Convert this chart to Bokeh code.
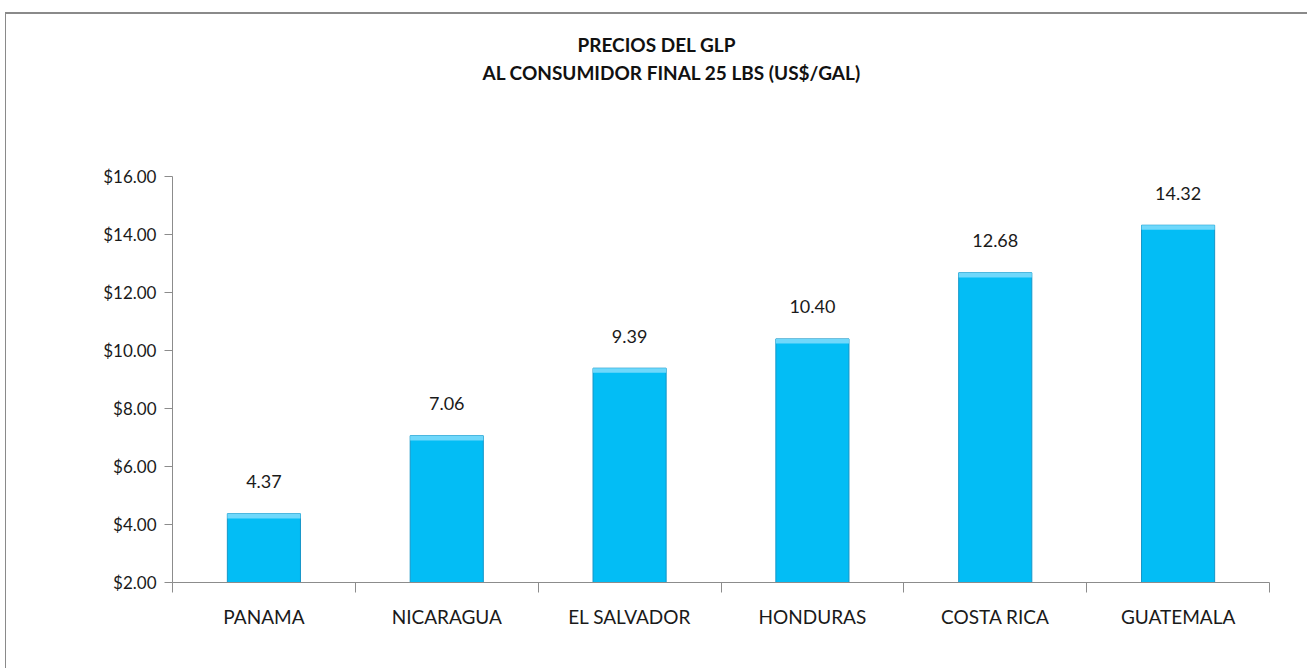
from bokeh.plotting import figure
from bokeh.models import Title, FixedTicker, NumeralTickFormatter, Range1d, LinearAxis
from bokeh.core.properties import value
from bokeh.embed import file_html
from bokeh.resources import INLINE

categories = ["PANAMA", "NICARAGUA", "EL SALVADOR", "HONDURAS", "COSTA RICA", "GUATEMALA"]
prices = [4.37, 7.06, 9.39, 10.40, 12.68, 14.32]
price_labels = ["4.37", "7.06", "9.39", "10.40", "12.68", "14.32"]
y_ticks = [2, 4, 6, 8, 10, 12, 14, 16]
title_lines = ["PRECIOS DEL GLP", "AL CONSUMIDOR FINAL  25 LBS (US$/GAL)"]

FONT = "Lato"

xs = [i + 0.5 for i in range(len(categories))]

p = figure(width=1302, height=656, output_backend="svg", toolbar_location=None,
           x_range=Range1d(0, len(categories)), y_range=Range1d(y_ticks[0], y_ticks[-1]),
           min_border_left=166, min_border_right=39, min_border_bottom=88,
           min_border_top=0, x_axis_type=None)
p.styles = {"margin-left": "5px", "margin-top": "12px",
            "border-top": "2px solid #8a8a8a", "border-left": "1px solid #8a8a8a"}
p.outline_line_color = None
p.grid.grid_line_color = None
p.background_fill_color = "white"
p.border_fill_color = "white"

# title panels, added from the frame outward
p.add_layout(Title(text=" ", text_font_size="12px", standoff=74), "above")
p.add_layout(Title(text=title_lines[1], align="left", offset=310,
                   text_font=FONT, text_font_size="19px", text_font_style="bold",
                   text_color="#111111", standoff=6), "above")
p.add_layout(Title(text=title_lines[0], align="left", offset=405,
                   text_font=FONT, text_font_size="19px", text_font_style="bold",
                   text_color="#111111", standoff=0), "above")
p.add_layout(Title(text=" ", text_font_size="12px", standoff=0), "above")

# bars
bottoms = [y_ticks[0]] * len(prices)
p.vbar(x=xs, top=prices, bottom=bottoms, width=0.4, fill_color="#03BDF5",
       line_color="#1596c8", line_width=1)
# bevel highlight at top
p.vbar(x=xs, top=prices, bottom=[v - 0.16 for v in prices], width=0.4,
       fill_color="#6fd8fb", line_color=None)

p.text(x=xs, y=prices, text=price_labels, text_align="center", text_baseline="middle",
       y_offset=-32, text_font=value(FONT), text_font_size="18px", text_color="#1a1a1a")

# y axis
p.yaxis.ticker = FixedTicker(ticks=y_ticks)
p.yaxis.formatter = NumeralTickFormatter(format="$0.00")
p.yaxis.axis_line_color = "#8c8c8c"
p.yaxis.major_tick_line_color = "#8c8c8c"
p.yaxis.major_tick_out = 8
p.yaxis.major_tick_in = 0
p.yaxis.minor_tick_line_color = None
p.yaxis.major_label_text_font = FONT
p.yaxis.major_label_text_font_size = "17px"
p.yaxis.major_label_text_color = "#1a1a1a"
p.yaxis.major_label_standoff = 8

# x axis: labels at centers, ticks at boundaries
xa = LinearAxis(ticker=FixedTicker(ticks=xs, minor_ticks=list(range(len(categories) + 1))),
                major_label_overrides={x: c for x, c in zip(xs, categories)})
xa.axis_line_color = "#8c8c8c"
xa.major_tick_line_color = None
xa.minor_tick_line_color = "#8c8c8c"
xa.minor_tick_out = 10
xa.minor_tick_in = 0
xa.major_label_standoff = 12
xa.major_label_text_font = FONT
xa.major_label_text_font_size = "19px"
xa.major_label_text_color = "#1a1a1a"
p.add_layout(xa, "below")

open("out.html", "w").write(file_html(p, INLINE))
